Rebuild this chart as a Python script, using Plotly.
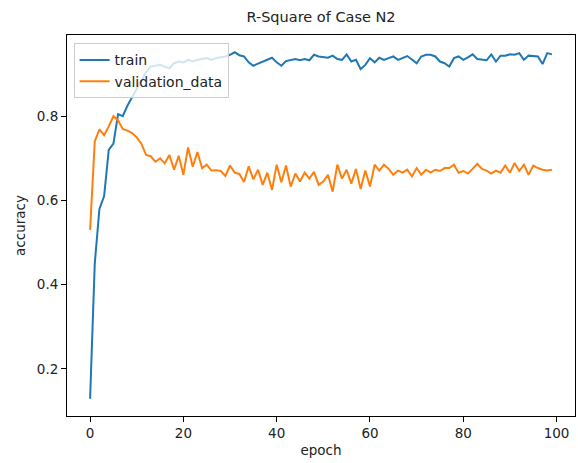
import plotly.graph_objects as go

# Per-epoch R-square scores for the training run
epochs = list(range(100))

train = [
    0.129, 0.450, 0.580, 0.610, 0.720, 0.735, 0.805, 0.800, 0.825, 0.845,
    0.868, 0.888, 0.905, 0.918, 0.920, 0.922, 0.918, 0.914, 0.926, 0.930,
    0.928, 0.934, 0.930, 0.934, 0.936, 0.938, 0.934, 0.938, 0.940, 0.942,
    0.946, 0.952, 0.945, 0.942, 0.928, 0.920, 0.925, 0.930, 0.935, 0.939,
    0.928, 0.920, 0.931, 0.934, 0.936, 0.933, 0.936, 0.933, 0.946, 0.942,
    0.940, 0.939, 0.944, 0.936, 0.934, 0.947, 0.930, 0.934, 0.912, 0.922,
    0.938, 0.928, 0.939, 0.934, 0.938, 0.942, 0.934, 0.938, 0.943, 0.935,
    0.926, 0.942, 0.946, 0.946, 0.942, 0.930, 0.926, 0.918, 0.938, 0.942,
    0.934, 0.940, 0.947, 0.936, 0.935, 0.933, 0.947, 0.930, 0.944, 0.944,
    0.947, 0.946, 0.950, 0.934, 0.944, 0.943, 0.942, 0.924, 0.950, 0.947,
]

validation_data = [
    0.530, 0.740, 0.769, 0.755, 0.776, 0.800, 0.790, 0.770, 0.766, 0.760,
    0.750, 0.735, 0.708, 0.705, 0.692, 0.700, 0.688, 0.708, 0.673, 0.706,
    0.661, 0.726, 0.680, 0.715, 0.677, 0.685, 0.671, 0.672, 0.670, 0.658,
    0.683, 0.666, 0.663, 0.644, 0.681, 0.650, 0.673, 0.637, 0.666, 0.625,
    0.685, 0.643, 0.683, 0.633, 0.664, 0.645, 0.666, 0.652, 0.668, 0.637,
    0.645, 0.661, 0.621, 0.685, 0.652, 0.673, 0.640, 0.675, 0.627, 0.671,
    0.633, 0.685, 0.671, 0.685, 0.675, 0.661, 0.671, 0.666, 0.673, 0.657,
    0.677, 0.661, 0.673, 0.666, 0.673, 0.670, 0.677, 0.677, 0.685, 0.666,
    0.670, 0.664, 0.675, 0.687, 0.675, 0.671, 0.664, 0.671, 0.666, 0.683,
    0.666, 0.689, 0.670, 0.685, 0.661, 0.683, 0.677, 0.673, 0.671, 0.673,
]

x_ticks = [0, 20, 40, 60, 80, 100]
y_ticks = [0.2, 0.4, 0.6, 0.8]

FONT = "DejaVu Sans"
TEXT = "#222222"

fig = go.Figure()
fig.add_trace(go.Scatter(x=epochs, y=train, mode="lines", name="train",
                         line=dict(color="#1f77b4", width=2)))
fig.add_trace(go.Scatter(x=epochs, y=validation_data, mode="lines", name="validation_data",
                         line=dict(color="#ff7f0e", width=2)))

axis_common = dict(
    showgrid=False, zeroline=False, showline=True, linecolor="#000000", linewidth=1,
    mirror=True, ticks="outside", ticklen=5, tickwidth=1, tickcolor="#000000",
    tickfont=dict(family=FONT, size=13.5, color=TEXT),
)

fig.update_layout(
    width=578, height=463,
    margin=dict(l=67, r=3, t=35, b=47),
    paper_bgcolor="white", plot_bgcolor="white",
    font=dict(family=FONT, color=TEXT),
    title=dict(text="R-Square of Case N2", x=0.5, xref="paper", xanchor="center",
               y=0.963, yref="container", yanchor="middle",
               font=dict(family=FONT, size=14.5, color=TEXT)),
    xaxis=dict(range=[-4.95, 103.95], tickvals=x_ticks,
               title=dict(text="epoch", font=dict(family=FONT, size=13.5, color=TEXT), standoff=5),
               **axis_common),
    yaxis=dict(range=[0.088, 0.993], tickvals=y_ticks, tickformat=".1f",
               title=dict(text="accuracy", font=dict(family=FONT, size=13.5, color=TEXT), standoff=8),
               **axis_common),
    legend=dict(x=0.013, y=0.978, xanchor="left", yanchor="top",
                bgcolor="rgba(255,255,255,0.8)", bordercolor="#cccccc", borderwidth=1,
                font=dict(family=FONT, size=14, color=TEXT),
                tracegroupgap=0, itemwidth=30),
    showlegend=True,
)

fig.write_html("out.html")
